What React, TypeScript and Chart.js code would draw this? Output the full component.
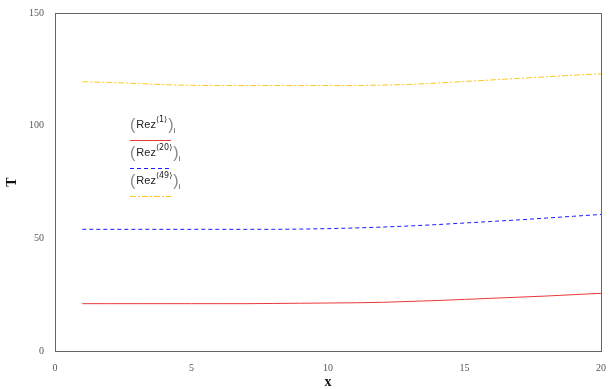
import React, { useEffect, useRef } from "react";
import { Chart, registerables } from "chart.js";

Chart.register(...registerables);

const xValues = [1, 2, 3, 4, 5, 6, 7, 8, 9, 10, 11, 12, 13, 14, 15, 16, 17, 18, 19, 20];
const rez1 = [21.0, 21.0, 21.0, 21.0, 21.0, 21.0, 21.0, 21.1, 21.2, 21.3, 21.4, 21.6, 22.0, 22.4, 22.9, 23.4, 23.9, 24.4, 25.0, 25.6];
const rez20 = [54.0, 54.0, 54.0, 54.0, 54.0, 54.0, 54.0, 54.0, 54.1, 54.3, 54.6, 55.0, 55.5, 56.1, 56.8, 57.5, 58.2, 59.0, 59.8, 60.6];
const rez49 = [119.5, 119.2, 118.7, 118.2, 117.9, 117.8, 117.8, 117.8, 117.8, 117.8, 117.8, 118.0, 118.3, 118.9, 119.6, 120.3, 121.0, 121.7, 122.4, 123.0];
const seriesSup = ["1", "20", "49"];
const xTicks = [0, 5, 10, 15, 20];
const yTicks = [0, 50, 100, 150];

const colors = ["#e8393b", "#1a1aff", "#ffc81e"];
const dashes = [[], [4, 3], [6, 2, 2, 2]];

const legendPlugin = {
  id: "mcLegend",
  afterDraw(chart: any) {
    const ctx = chart.ctx;
    const a = chart.chartArea;
    ctx.save();
    ctx.strokeStyle = "#666";
    ctx.lineWidth = 1;
    ctx.strokeRect(Math.round(a.left) + 0.5, Math.round(a.top) + 0.5, Math.round(a.right - a.left), Math.round(a.bottom - a.top));
    const fam = '"Liberation Sans", "DejaVu Sans", Arial, sans-serif';
    for (let i = 0; i < 3; i++) {
      const base = 128 + i * 28;
      let x = 130;
      ctx.fillStyle = "#888";
      ctx.font = "16px " + fam;
      ctx.textBaseline = "alphabetic";
      ctx.fillText("(", x, base + 2);
      x += ctx.measureText("(").width + 1;
      ctx.fillStyle = "#222";
      ctx.font = "11px " + fam;
      ctx.fillText("Rez", x, base);
      x += ctx.measureText("Rez").width;
      ctx.font = '8px "DejaVu Sans", ' + fam;
      const sup = "\u27E8" + seriesSup[i] + "\u27E9";
      ctx.fillText(sup, x, base - 6);
      x += ctx.measureText(sup).width + 1;
      ctx.fillStyle = "#888";
      ctx.font = "16px " + fam;
      ctx.fillText(")", x, base + 2);
      x += ctx.measureText(")").width;
      ctx.fillStyle = "#555";
      ctx.font = "8px " + fam;
      ctx.fillText("i", x, base + 5);
      const ly = 140.5 + i * 28;
      ctx.strokeStyle = colors[i];
      ctx.setLineDash(dashes[i]);
      ctx.beginPath();
      ctx.moveTo(130, ly);
      ctx.lineTo(171, ly);
      ctx.stroke();
      ctx.setLineDash([]);
    }
    ctx.restore();
  },
};

export default function App() {
  const ref = useRef<HTMLCanvasElement | null>(null);
  useEffect(() => {
    document.body.style.margin = "0";
    const mk = (vals: number[]) => xValues.map((x, i) => ({ x, y: vals[i] }));
    const data = [rez1, rez20, rez49];
    const chart = new Chart(ref.current as HTMLCanvasElement, {
      type: "line",
      data: {
        datasets: data.map((vals, i) => ({
          label: "Rez" + seriesSup[i],
          data: mk(vals),
          borderColor: colors[i],
          borderWidth: 1,
          borderDash: dashes[i],
          pointRadius: 0,
          tension: 0,
          fill: false,
        })),
      },
      options: {
        animation: false,
        responsive: false,
        maintainAspectRatio: false,
        layout: { padding: { top: 13, right: 8, left: 0, bottom: 0 } },
        plugins: { legend: { display: false }, tooltip: { enabled: false } },
        scales: {
          x: {
            type: "linear",
            min: 0,
            max: 20,
            afterBuildTicks: (s: any) => {
              s.ticks = xTicks.map((v) => ({ value: v }));
            },
            afterFit: (s: any) => {
              s.height = 38;
            },
            grid: { display: false },
            border: { display: true, color: "#666" },
            ticks: { color: "#555", font: { family: '"Liberation Serif", serif', size: 10 }, padding: 3, maxRotation: 0 },
            title: { display: true, text: "x", color: "#111", font: { family: '"Liberation Serif", serif', size: 14, weight: "bold" }, padding: { top: 4, bottom: -2 } },
          },
          y: {
            type: "linear",
            min: 0,
            max: 150,
            afterBuildTicks: (s: any) => {
              s.ticks = yTicks.map((v) => ({ value: v }));
            },
            afterFit: (s: any) => {
              s.width = 55;
            },
            grid: { display: false },
            border: { display: true, color: "#666" },
            ticks: { color: "#555", font: { family: '"Liberation Serif", serif', size: 10 }, padding: 3 },
            title: { display: true, text: "T", color: "#111", font: { family: '"Liberation Serif", serif', size: 14, weight: "bold" }, padding: { top: 4, bottom: 0 } },
          },
        },
      },
      plugins: [legendPlugin],
    } as any);
    return () => chart.destroy();
  }, []);
  return (
    <div style={{ position: "fixed", left: 0, top: 0, width: 609, height: 389 }}>
      <canvas ref={ref} width={609} height={389} style={{ width: 609, height: 389, display: "block" }} />
    </div>
  );
}
